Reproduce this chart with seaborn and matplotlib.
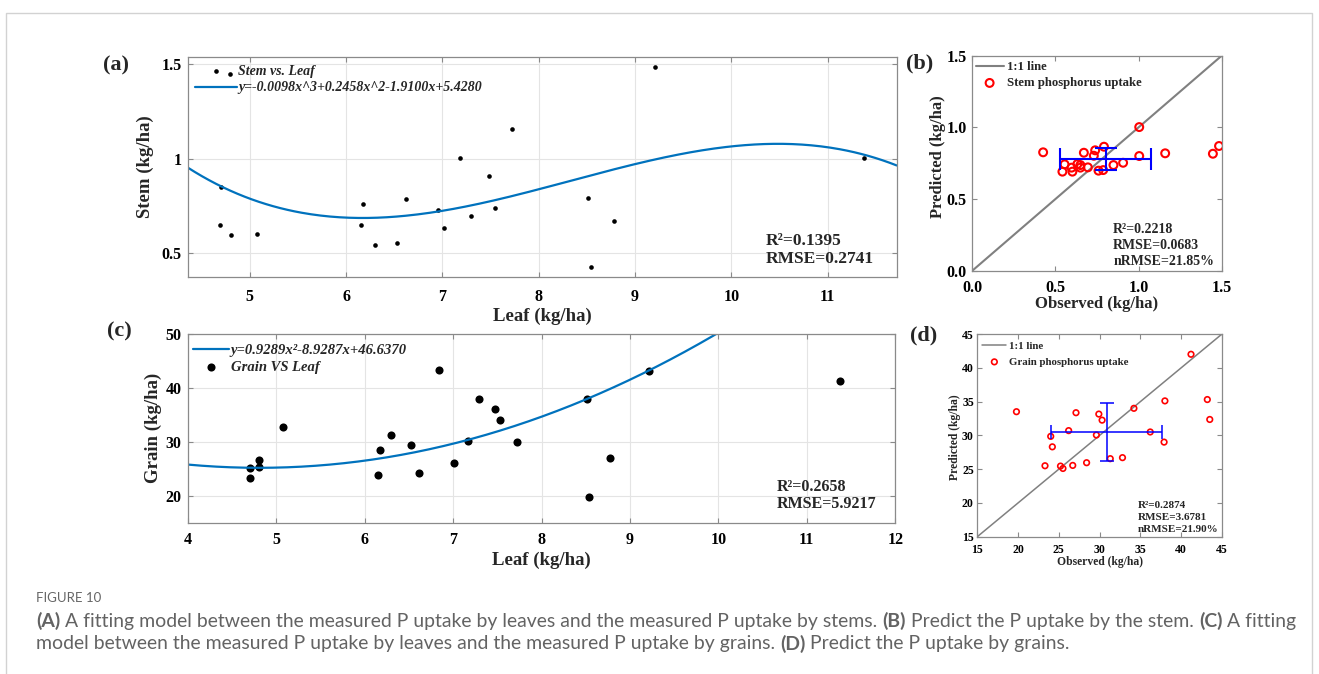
"""
Leaf/stem/grain P uptake: fitted models and predicted vs observed.
"""
import numpy as np
import seaborn as sns
import matplotlib.pyplot as plt
from matplotlib.patches import Rectangle

W, H = 1319, 674

# ---- values ----
leaf_stem = [4.70, 4.69, 4.81, 4.80, 5.08, 6.15, 6.18, 6.30, 6.53, 6.62, 6.95,
             7.02, 7.18, 7.30, 7.48, 7.55, 7.72, 8.51, 8.54, 8.78, 9.21, 11.38]
stem = [0.849, 0.650, 0.597, 1.447, 0.602, 0.650, 0.759, 0.542, 0.555, 0.787, 0.731,
        0.632, 1.004, 0.695, 0.907, 0.739, 1.160, 0.792, 0.426, 0.671, 1.484, 1.004]

leaf_grain = [4.70, 4.71, 4.81, 4.81, 5.08, 6.15, 6.17, 6.30, 6.53, 6.61, 6.84,
              7.01, 7.17, 7.29, 7.47, 7.53, 7.72, 8.51, 8.54, 8.78, 9.22, 11.38]
grain = [23.2, 25.2, 25.4, 26.7, 32.8, 23.9, 28.4, 31.2, 29.5, 24.2, 43.4,
         26.1, 30.2, 37.9, 36.1, 34.1, 29.9, 38.0, 19.8, 27.0, 43.2, 41.2]
# quadratic printed on panel (c)
grain_coef = [0.9289, -8.9287, 46.6370]

stem_obs = [0.426, 0.542, 0.555, 0.597, 0.602, 0.632, 0.650, 0.650, 0.671, 0.695, 0.731,
            0.739, 0.759, 0.787, 0.792, 0.849, 0.907, 1.004, 1.004, 1.160, 1.447, 1.484]
stem_pred = [0.826, 0.691, 0.742, 0.719, 0.691, 0.744, 0.737, 0.719, 0.823, 0.721, 0.802,
             0.840, 0.698, 0.702, 0.865, 0.737, 0.753, 1.002, 0.800, 0.819, 0.816, 0.870]

grain_obs = [19.8, 23.3, 24.0, 24.2, 25.2, 25.5, 26.2, 26.7, 27.1, 28.4, 29.6,
             29.9, 30.3, 31.3, 32.8, 34.2, 36.2, 37.9, 38.0, 41.2, 43.2, 43.5]
grain_pred = [33.5, 25.5, 29.85, 28.3, 25.45, 25.1, 30.7, 25.55, 33.35, 25.95, 30.05,
              33.15, 32.25, 26.55, 26.7, 34.0, 30.5, 29.0, 35.1, 42.0, 35.3, 32.35]

stem_fit_label = "y=-0.0098x^3+0.2458x^2-1.9100x+5.4280"
grain_fit_label = "y=0.9289x\u00b2-8.9287x+46.6370"
stats_a = "R\u00b2=0.1395\nRMSE=0.2741"
stats_b = "R\u00b2=0.2218\nRMSE=0.0683\nnRMSE=21.85%"
stats_c = "R\u00b2=0.2658\nRMSE=5.9217"
stats_d = "R\u00b2=0.2874\nRMSE=3.6781\nnRMSE=21.90%"

caption_head = "FIGURE 10"
caption_1 = [("(A)", True),
             ("A fitting model between the measured P uptake by leaves and the measured P uptake by stems.", False),
             ("(B)", True), ("Predict the P uptake by the stem.", False),
             ("(C)", True), ("A fitting", False)]
caption_2 = [("model between the measured P uptake by leaves and the measured P uptake by grains.", False),
             ("(D)", True), ("Predict the P uptake by grains.", False)]

# ---- style ----
sns.set_theme(style="ticks")
plt.rcParams["font.family"] = ["Liberation Serif", "DejaVu Serif"]
plt.rcParams["font.weight"] = "bold"
BLUE = (0.0, 0.447, 0.741)
EDGE = "#8a8a8a"

fig = plt.figure(figsize=(W / 100, H / 100), dpi=100)
fig.patch.set_facecolor("white")
fig.patches.append(Rectangle((6 / W, -0.05), (1312 - 6) / W, 1.05 - 13 / H,
                             transform=fig.transFigure, fill=False,
                             edgecolor="#d2d2d2", linewidth=1.0))


def axes_px(left, top, right, bottom):
    return fig.add_axes([left / W, 1 - bottom / H, (right - left) / W, (bottom - top) / H])


def ftext(x, y, s, **kw):
    return fig.text(x / W, 1 - y / H, s, **kw)


def style(ax, size, xpad, ypad, grid=False):
    ax.tick_params(direction="in", top=True, right=True, length=3.5, width=0.8,
                   color=EDGE, labelsize=size, labelcolor="black")
    ax.tick_params(axis="x", pad=xpad)
    ax.tick_params(axis="y", pad=ypad)
    for sp in ax.spines.values():
        sp.set_color(EDGE)
        sp.set_linewidth(0.9)
    if grid:
        ax.grid(True, color="#e4e4e4", linewidth=0.8)
        ax.set_axisbelow(True)
    ax.set_xlabel("")
    ax.set_ylabel("")


# ---- (a) stem vs leaf ----
ax_a = axes_px(187.7, 57.3, 896.7, 277.3)
xlim_a = (4.356, 11.716)
sns.scatterplot(x=leaf_stem, y=stem, ax=ax_a, color="black", s=11, linewidth=0)
dots_a = ax_a.collections[-1]
coef_a = np.polyfit(leaf_stem, stem, 3)
xs_a = np.linspace(*xlim_a, 300)
sns.lineplot(x=xs_a, y=np.polyval(coef_a, xs_a), ax=ax_a, color=BLUE, linewidth=1.6,
             sort=False, estimator=None)
ax_a.set_xlim(*xlim_a)
ax_a.set_ylim(0.373, 1.537)
ax_a.set_xticks(range(5, 12))
ax_a.set_yticks([0.5, 1.0, 1.5], ["0.5", "1", "1.5"])
style(ax_a, 11.5, 8.5, 4.5, grid=True)
ax_a.legend(handles=[dots_a, ax_a.lines[0]], labels=["Stem vs. Leaf", stem_fit_label],
            loc="upper left", bbox_to_anchor=(0.0, 1.0), frameon=False, borderaxespad=0.1,
            borderpad=0.45, handlelength=3.0, handletextpad=0.1, labelspacing=0.25,
            prop=dict(family="Liberation Serif", style="italic", weight="bold", size=10))
ax_a.text(0.815, 0.045, stats_a, transform=ax_a.transAxes, ha="left", va="bottom",
          fontsize=12.5, linespacing=1.2)

# ---- (c) grain vs leaf ----
ax_c = axes_px(187.7, 334, 895.3, 522.7)
xlim_c = (4, 12)
xs_c = np.linspace(*xlim_c, 300)
sns.lineplot(x=xs_c, y=np.polyval(grain_coef, xs_c), ax=ax_c, color=BLUE, linewidth=1.6,
             sort=False, estimator=None)
sns.scatterplot(x=leaf_grain, y=grain, ax=ax_c, color="black", s=34, linewidth=0)
dots_c = ax_c.collections[-1]
ax_c.set_xlim(*xlim_c)
ax_c.set_ylim(15, 50)
ax_c.set_xticks(range(4, 13))
ax_c.set_yticks([20, 30, 40, 50])
style(ax_c, 11.5, 7, 4.5, grid=True)
ax_c.legend(handles=[ax_c.lines[0], dots_c], labels=[grain_fit_label, "Grain VS Leaf"],
            loc="upper left", bbox_to_anchor=(-0.006, 1.0), frameon=False, borderaxespad=0.1,
            borderpad=0.55, handlelength=2.5, handletextpad=0.1, labelspacing=0.3,
            prop=dict(family="Liberation Serif", style="italic", weight="bold", size=10.5))
ax_c.text(0.832, 0.055, stats_c, transform=ax_c.transAxes, ha="left", va="bottom",
          fontsize=11.5, linespacing=1.1)


def pred_panel(ax, obs, pred, lim, ticks, fmt, ms, mlw, lw, cap, name, stats, sx, fs, lfs,
               lspace, bpad, sspace):
    sns.lineplot(x=list(lim), y=list(lim), ax=ax, color="#808080", linewidth=lw,
                 estimator=None, sort=False)
    one_one = ax.lines[-1]
    sns.scatterplot(x=obs, y=pred, ax=ax, s=ms, facecolor="none", edgecolor="red",
                    linewidth=mlw, zorder=3)
    circles = ax.collections[-1]
    ax.errorbar(np.mean(obs), np.mean(pred), xerr=np.std(obs, ddof=1), yerr=np.std(pred, ddof=1),
                color="blue", linewidth=lw, capsize=cap, capthick=lw, zorder=4)
    ax.set_xlim(*lim)
    ax.set_ylim(*lim)
    ax.set_xticks(ticks, [fmt.format(t) for t in ticks])
    ax.set_yticks(ticks, [fmt.format(t) for t in ticks])
    ax.legend(handles=[one_one, circles], labels=["1:1 line", name],
              loc="upper left", bbox_to_anchor=(-0.01, 1.0), frameon=False, borderaxespad=0.1,
              borderpad=bpad, handlelength=2.2, handletextpad=0.25, labelspacing=lspace,
              prop=dict(family="Liberation Serif", weight="bold", size=lfs))
    ax.text(sx, 0.012, stats, transform=ax.transAxes, ha="left", va="bottom",
            fontsize=fs, linespacing=sspace)


# ---- (b) stem prediction ----
ax_b = axes_px(972.3, 55.7, 1221.7, 270.7)
pred_panel(ax_b, stem_obs, stem_pred, (0.0, 1.5), [0.0, 0.5, 1.0, 1.5], "{:.1f}",
           32, 1.5, 1.5, 8, "Stem phosphorus uptake", stats_b, 0.565, 10, 9.2,
           0.3, 0.35, 1.3)
style(ax_b, 11.5, 7, 4)

# ---- (d) grain prediction ----
ax_d = axes_px(977.3, 334, 1222, 536.7)
pred_panel(ax_d, grain_obs, grain_pred, (15, 45), list(range(15, 50, 5)), "{:d}",
           16, 1.2, 1.1, 5, "Grain phosphorus uptake", stats_d, 0.654, 8, 7.8,
           0.55, 0.6, 1.45)
style(ax_d, 8.5, 5, 2.5)

# ---- axis labels and panel letters ----
lab = dict(ha="center", va="center", fontweight="bold")
ftext(145, 167, "Stem (kg/ha)", rotation=90, fontsize=13.5, **lab)
ftext(542, 316, "Leaf (kg/ha)", fontsize=13.5, **lab)
ftext(153, 428, "Grain (kg/ha)", rotation=90, fontsize=13.5, **lab)
ftext(541, 560, "Leaf (kg/ha)", fontsize=13.5, **lab)
ftext(938, 157, "Predicted (kg/ha)", rotation=90, fontsize=12, **lab)
ftext(1097, 304, "Observed (kg/ha)", fontsize=12, **lab)
ftext(955, 437, "Predicted (kg/ha)", rotation=90, fontsize=8.4, **lab)
ftext(1100, 562, "Observed (kg/ha)", fontsize=8.4, **lab)
for x, y, s in [(116, 65, "(a)"), (920, 63, "(b)"), (119, 331, "(c)"), (924, 335, "(d)")]:
    ftext(x, y, s, fontsize=16, **lab)

# ---- caption ----
CAP = "#636363"
renderer = fig.canvas.get_renderer()


def width(s, size, bold):
    t = ftext(0, 0, s, fontsize=size, family="Lato", fontweight="bold" if bold else "normal")
    w = t.get_window_extent(renderer).width
    t.remove()
    return w


def line_width(parts, size):
    gap = width("a a", size, False) - width("aa", size, False)
    return sum(width(s, size, b) for s, b in parts) + gap * (len(parts) - 1)


def draw_line(x, y, parts, size):
    gap = width("a a", size, False) - width("aa", size, False)
    for s, b in parts:
        ftext(x, y, s, fontsize=size, family="Lato", fontweight="bold" if b else "normal",
              color=CAP, ha="left", va="center")
        x += width(s, size, b) + gap


cap_size = 12 * 1259 / line_width(caption_1, 12)
ftext(36, 598, caption_head, fontsize=9.5, family="Lato", fontweight="normal", color="#666666",
      ha="left", va="center")
draw_line(36, 621, caption_1, cap_size)
draw_line(36, 644, caption_2, cap_size)

fig.savefig("out.png", dpi=100, facecolor="white")
